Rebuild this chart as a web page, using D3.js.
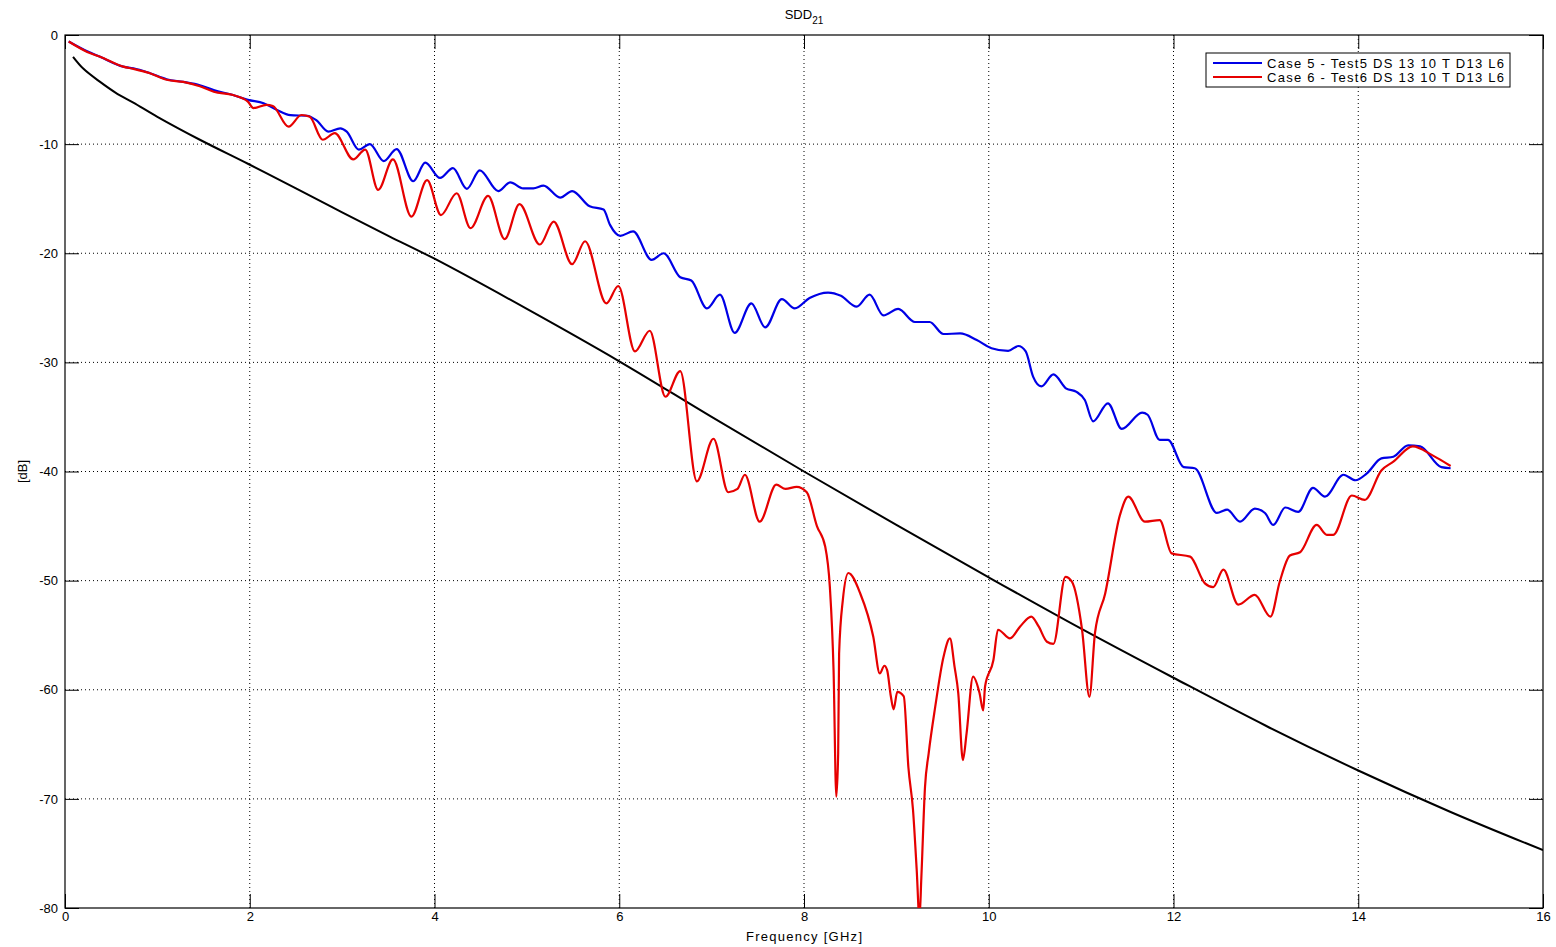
<!DOCTYPE html>
<html>
<head>
<meta charset="utf-8">
<script src="https://cdn.jsdelivr.net/npm/d3@7"></script>
<style>
  body { margin: 0; background: #fff; }
  text { font-family: "Liberation Sans", Arial, sans-serif; fill: #000; }
</style>
</head>
<body>
<div id="chart"></div>
<script>
// frequency [GHz], value [dB]
const case5 = [
  [0.04, -0.6], [0.24, -1.5], [0.38, -2.0], [0.63, -2.9], [0.74, -3.05], [0.92, -3.5],
  [1.10, -4.05], [1.28, -4.3], [1.46, -4.6], [1.61, -5.05], [1.82, -5.5], [1.98, -5.95],
  [2.15, -6.25], [2.29, -6.85], [2.44, -7.35], [2.62, -7.4], [2.72, -7.8], [2.85, -8.85],
  [2.98, -8.55], [3.05, -8.85], [3.18, -10.5], [3.30, -10.0], [3.45, -11.55], [3.59, -10.45],
  [3.77, -13.4], [3.90, -11.7], [4.06, -13.1], [4.20, -12.2], [4.35, -14.1], [4.49, -12.4],
  [4.69, -14.3], [4.82, -13.5], [4.96, -14.05], [5.07, -14.05], [5.18, -13.8], [5.36, -14.9],
  [5.49, -14.3], [5.68, -15.7], [5.83, -16.0], [5.90, -17.4], [6.01, -18.4], [6.15, -18.0],
  [6.35, -20.6], [6.48, -20.0], [6.66, -22.2], [6.78, -22.5], [6.95, -25.05], [7.09, -23.8],
  [7.25, -27.3], [7.43, -24.6], [7.58, -26.8], [7.76, -24.2], [7.90, -25.05], [8.06, -24.1],
  [8.26, -23.6], [8.40, -23.9], [8.57, -24.9], [8.71, -23.8], [8.86, -25.7], [9.02, -25.1],
  [9.20, -26.3], [9.36, -26.3], [9.51, -27.4], [9.69, -27.35], [9.87, -27.95], [10.03, -28.7],
  [10.21, -28.95], [10.32, -28.5], [10.40, -29.0], [10.48, -31.3], [10.57, -32.2], [10.70, -31.1],
  [10.84, -32.4], [10.95, -32.7], [11.04, -33.45], [11.13, -35.4], [11.29, -33.75], [11.44, -36.1],
  [11.66, -34.6], [11.72, -34.8], [11.85, -37.1], [11.94, -37.1], [12.11, -39.6], [12.23, -39.7],
  [12.47, -43.8], [12.58, -43.5], [12.72, -44.6], [12.88, -43.4], [12.99, -43.8], [13.08, -44.9],
  [13.21, -43.3], [13.35, -43.7], [13.51, -41.5], [13.64, -42.3], [13.84, -40.3], [13.97, -40.8],
  [14.09, -40.2], [14.25, -38.8], [14.38, -38.65], [14.54, -37.6], [14.67, -37.7], [14.90, -39.6],
  [15.00, -39.7]
];

const case6 = [
  [0.04, -0.6], [0.24, -1.55], [0.38, -2.0], [0.63, -2.9], [0.74, -3.1], [0.92, -3.5],
  [1.10, -4.1], [1.28, -4.3], [1.46, -4.7], [1.61, -5.2], [1.82, -5.5], [1.98, -6.1],
  [2.04, -6.7], [2.18, -6.4], [2.25, -6.5], [2.42, -8.4], [2.56, -7.33], [2.65, -7.5],
  [2.79, -9.6], [2.92, -9.0], [3.12, -11.4], [3.25, -10.5], [3.39, -14.2], [3.55, -11.4],
  [3.75, -16.65], [3.92, -13.3], [4.07, -16.5], [4.24, -14.5], [4.39, -17.7], [4.58, -14.75],
  [4.76, -18.7], [4.92, -15.5], [5.14, -19.2], [5.29, -17.1], [5.49, -21.0], [5.63, -18.9],
  [5.86, -24.6], [5.99, -23.0], [6.17, -29.0], [6.33, -27.1], [6.50, -33.15], [6.66, -30.8],
  [6.84, -40.9], [7.02, -37.0], [7.18, -41.9], [7.28, -41.6], [7.36, -40.3], [7.52, -44.6],
  [7.70, -41.2], [7.80, -41.6], [7.92, -41.4], [8.03, -41.9], [8.14, -45.0], [8.23, -46.9],
  [8.28, -50.6], [8.32, -58.2], [8.35, -69.8], [8.37, -65.8], [8.38, -56.7], [8.42, -51.8],
  [8.48, -49.3], [8.61, -51.2], [8.75, -55.15], [8.82, -58.5], [8.87, -57.8], [8.90, -58.2],
  [8.94, -60.6], [8.97, -61.8], [9.01, -60.2], [9.08, -60.6], [9.13, -67.1], [9.18, -71.0], [9.22, -76.5],
  [9.25, -81.0], [9.27, -77.3], [9.31, -68.9], [9.35, -65.8], [9.42, -61.6], [9.51, -57.0],
  [9.58, -55.3], [9.63, -57.9], [9.67, -60.3], [9.72, -66.45], [9.76, -64.0], [9.83, -58.8],
  [9.90, -60.3], [9.94, -61.9], [9.96, -59.7], [10.05, -57.3], [10.10, -54.5], [10.23, -55.3],
  [10.34, -54.2], [10.46, -53.3], [10.54, -54.2], [10.63, -55.6], [10.70, -55.8], [10.83, -49.65],
  [10.90, -50.1], [11.01, -54.5], [11.09, -60.65], [11.15, -54.8], [11.26, -51.2], [11.42, -44.0],
  [11.51, -42.3], [11.69, -44.6], [11.85, -44.45], [11.98, -47.5], [12.18, -47.8], [12.34, -50.25],
  [12.43, -50.6], [12.54, -49.0], [12.70, -52.2], [12.88, -51.3], [13.05, -53.3], [13.15, -50.1],
  [13.26, -47.7], [13.37, -47.4], [13.55, -44.9], [13.66, -45.8], [13.73, -45.8], [13.93, -42.2],
  [14.07, -42.6], [14.25, -39.9], [14.38, -39.1], [14.59, -37.7], [14.80, -38.5], [15.00, -39.5]
];

const limitLine = [
  [0.087, -2.0], [0.2, -3.1], [0.38, -4.3], [0.55, -5.3], [0.74, -6.2], [1.0, -7.5],
  [1.46, -9.6], [1.98, -11.8], [2.5, -14.05], [3.0, -16.25], [3.5, -18.4], [4.0, -20.5],
  [5, -25.1], [6, -29.9], [7, -35.0], [8, -40.0], [9, -44.9], [10, -49.7], [11, -54.4],
  [12, -58.9], [13, -63.3], [14, -67.4], [15, -71.2], [16, -74.7]
];

const xTicks = [0, 2, 4, 6, 8, 10, 12, 14, 16];
const yTicks = [0, -10, -20, -30, -40, -50, -60, -70, -80];
const legendLabels = ["Case 5 - Test5 DS 13 10 T D13 L6", "Case 6 - Test6 DS 13 10 T D13 L6"];

const width = 1556, height = 947;
const margin = { top: 35, right: 13, bottom: 39, left: 65 };
const innerW = width - margin.left - margin.right;
const innerH = height - margin.top - margin.bottom;

const svg = d3.select("#chart").append("svg")
    .attr("width", width)
    .attr("height", height);

const x = d3.scaleLinear().domain([0, 16]).range([0, innerW]);
const y = d3.scaleLinear().domain([-80, 0]).range([innerH, 0]);

const g = svg.append("g").attr("transform", `translate(${margin.left},${margin.top})`);

svg.append("defs").append("clipPath").attr("id", "plotclip")
    .append("rect").attr("width", innerW).attr("height", innerH);

// dotted grid
g.append("g").selectAll("line").data(xTicks.slice(1, -1)).join("line")
    .attr("x1", d => x(d)).attr("x2", d => x(d))
    .attr("y1", 0).attr("y2", innerH)
    .attr("stroke", "#000").attr("stroke-width", 1).attr("stroke-dasharray", "1,3");
g.append("g").selectAll("line").data(yTicks.slice(1, -1)).join("line")
    .attr("y1", d => y(d)).attr("y2", d => y(d))
    .attr("x1", 0).attr("x2", innerW)
    .attr("stroke", "#000").attr("stroke-width", 1).attr("stroke-dasharray", "1,3");

// axes, ticks pointing inward on all four sides
const tickLen = 14;
const fmt = d => String(d);
const xAxis = g.append("g").attr("transform", `translate(0,${innerH})`)
    .call(d3.axisBottom(x).tickValues(xTicks).tickFormat(fmt).tickSizeInner(-tickLen).tickSizeOuter(0).tickPadding(4));
const yAxis = g.append("g")
    .call(d3.axisLeft(y).tickValues(yTicks).tickFormat(fmt).tickSizeInner(-tickLen).tickSizeOuter(0).tickPadding(7));
g.append("g")
    .call(d3.axisTop(x).tickValues(xTicks).tickSizeInner(-tickLen).tickSizeOuter(0).tickFormat(""));
g.append("g").attr("transform", `translate(${innerW},0)`)
    .call(d3.axisRight(y).tickValues(yTicks).tickSizeInner(-tickLen).tickSizeOuter(0).tickFormat(""));

g.selectAll(".domain").remove();
g.selectAll(".tick line").attr("stroke", "#000");
[xAxis, yAxis].forEach(a => a.selectAll("text")
    .style("font-family", "'Liberation Sans', Arial, sans-serif")
    .style("font-size", "13px")
    .attr("fill", "#000"));

g.append("rect")
    .attr("width", innerW).attr("height", innerH)
    .attr("fill", "none").attr("stroke", "#000").attr("stroke-width", 1.2);

// curves
const line = d3.line()
    .x(d => x(d[0]))
    .y(d => y(d[1]))
    .curve(d3.curveMonotoneX);

const curves = g.append("g").attr("clip-path", "url(#plotclip)");
curves.append("path").datum(limitLine)
    .attr("d", line.curve(d3.curveCatmullRom)).attr("fill", "none").attr("stroke", "#000").attr("stroke-width", 2);
line.curve(d3.curveMonotoneX);
curves.append("path").datum(case5)
    .attr("d", line).attr("fill", "none").attr("stroke", "#0000e6").attr("stroke-width", 2.2);
curves.append("path").datum(case6)
    .attr("d", line).attr("fill", "none").attr("stroke", "#e60000").attr("stroke-width", 2.2);

// legend
const legend = svg.append("g").attr("transform", "translate(1206,53)");
legend.append("rect")
    .attr("width", 304).attr("height", 34)
    .attr("fill", "#fff").attr("stroke", "#000").attr("stroke-width", 1);
const legendColors = ["#0000e6", "#e60000"];
legendLabels.forEach((label, i) => {
    const row = legend.append("g").attr("transform", `translate(0,${10 + i * 14})`);
    row.append("line")
        .attr("x1", 7).attr("x2", 56)
        .attr("stroke", legendColors[i]).attr("stroke-width", 2);
    row.append("text")
        .attr("x", 61).attr("y", 4.5)
        .attr("textLength", 237).attr("lengthAdjust", "spacing")
        .style("font-size", "13px")
        .text(label);
});

// title and axis labels
const title = svg.append("text")
    .attr("x", margin.left + innerW / 2).attr("y", 19)
    .attr("text-anchor", "middle")
    .style("font-size", "13px");
title.append("tspan").text("SDD");
title.append("tspan").attr("dy", 5).style("font-size", "10px").text("21");

svg.append("text")
    .attr("x", margin.left + innerW / 2).attr("y", 941)
    .attr("text-anchor", "middle")
    .attr("textLength", 116).attr("lengthAdjust", "spacing")
    .style("font-size", "13px")
    .text("Frequency [GHz]");

svg.append("text")
    .attr("transform", `translate(27,${margin.top + innerH / 2}) rotate(-90)`)
    .attr("text-anchor", "middle")
    .style("font-size", "13px")
    .text("[dB]");
</script>
</body>
</html>
